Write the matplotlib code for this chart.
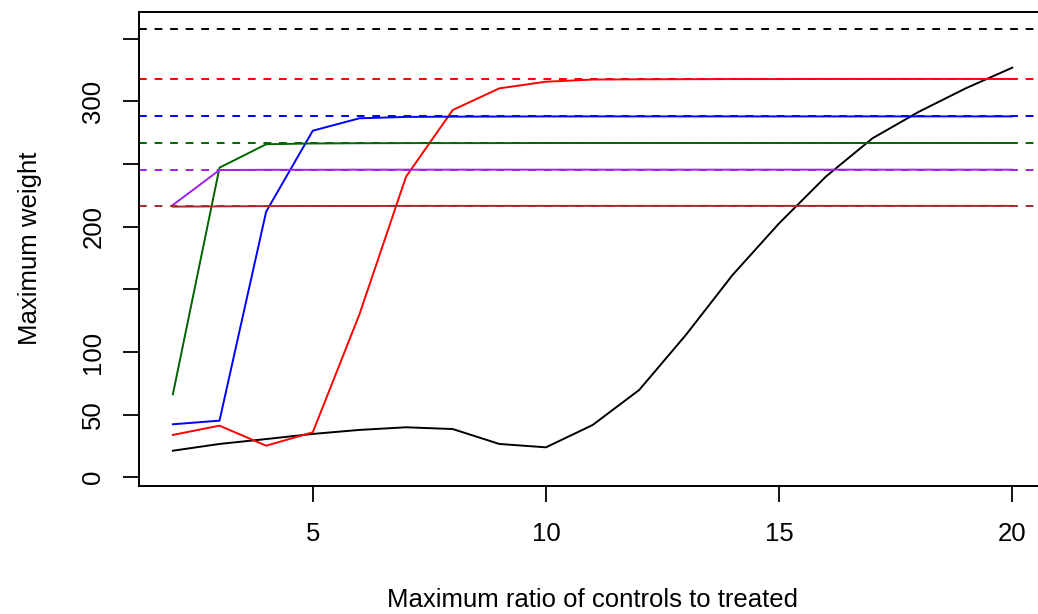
import matplotlib
matplotlib.use("Agg")
import matplotlib.pyplot as plt

plt.rcParams['font.family'] = ['Liberation Sans', 'DejaVu Sans']

ratio = [2, 3, 4, 5, 6, 7, 8, 9, 10, 11, 12, 13, 14, 15, 16, 17, 18, 19, 20]

w_black = [21.2, 26.6, 30.5, 34.6, 37.8, 39.9, 38.5, 26.6, 23.9, 41.7,
           69.7, 113.6, 161.4, 202.7, 239.9, 270.5, 291.8, 310.4, 326.9]
w_red = [33.8, 41.2, 25.2, 35.9, 130.0, 239.9, 293.1, 310.4, 315.7, 317.4,
         317.6, 317.7, 317.8, 317.8, 317.9, 317.9, 317.9, 317.9, 317.9]
w_blue = [42.3, 45.2, 212.0, 276.6, 286.5, 287.6, 287.8, 287.9, 288.0, 288.0,
          288.0, 288.0, 288.0, 288.0, 288.0, 288.0, 288.0, 288.0, 288.0]
w_green = [66.2, 247.1, 265.8, 266.4, 266.6, 266.7, 266.7, 266.7, 266.8, 266.8,
           266.8, 266.8, 266.8, 266.8, 266.8, 266.8, 266.8, 266.8, 266.8]
w_purple = [217.3, 245.2, 245.4, 245.4, 245.5, 245.5, 245.5, 245.5, 245.5, 245.5,
            245.5, 245.5, 245.5, 245.5, 245.5, 245.5, 245.5, 245.5, 245.5]
w_brown = [216.0, 216.2, 216.4, 216.5, 216.5, 216.6, 216.6, 216.6, 216.6, 216.6,
           216.6, 216.6, 216.6, 216.6, 216.6, 216.6, 216.6, 216.6, 216.6]

# horizontal reference levels (dashed)
h_levels = [357.5, 317.9, 288.1, 267.0, 245.5, 216.8]

colors = ['black', '#FF0000', '#0000FF', '#006400', '#A020F0', '#A52A2A']
series = [w_black, w_red, w_blue, w_green, w_purple, w_brown]

yticks = [0, 50, 100, 150, 200, 250, 300, 350]
ytick_labels = ['0', '50', '100', '', '200', '', '300', '']
xticks = [5, 10, 15, 20]

fig = plt.figure(figsize=(10.38, 6.14), dpi=100)
ax = fig.add_axes([0.1342, 0.2090, 0.8734, 0.7720])

for w, c in zip(series, colors):
    ax.plot(ratio, w, color=c, linewidth=1.4)

for h, c in zip(h_levels, colors):
    ax.axhline(h, color=c, linewidth=1.4, linestyle=(0, (4, 4)))

ax.set_xlim(1.28, 20.72)
ax.set_ylim(-6.7, 371.6)

ax.set_xticks(xticks)
ax.set_xticklabels([str(t) for t in xticks])
ax.set_yticks(yticks)
ax.set_yticklabels(ytick_labels, rotation=90, va='center')

ax.tick_params(axis='both', direction='out', length=11.5, width=1.3,
               labelsize=18.5)
ax.tick_params(axis='x', pad=15)
ax.tick_params(axis='y', pad=13)

for s in ax.spines.values():
    s.set_linewidth(1.4)

ax.set_xlabel('Maximum ratio of controls to treated', fontsize=18.5)
ax.xaxis.set_label_coords(0.5, -0.215)
ax.set_ylabel('Maximum weight', fontsize=18.5, va='center')
ax.yaxis.set_label_coords(-0.1206, 0.5)

fig.savefig('out.png', dpi=100)
